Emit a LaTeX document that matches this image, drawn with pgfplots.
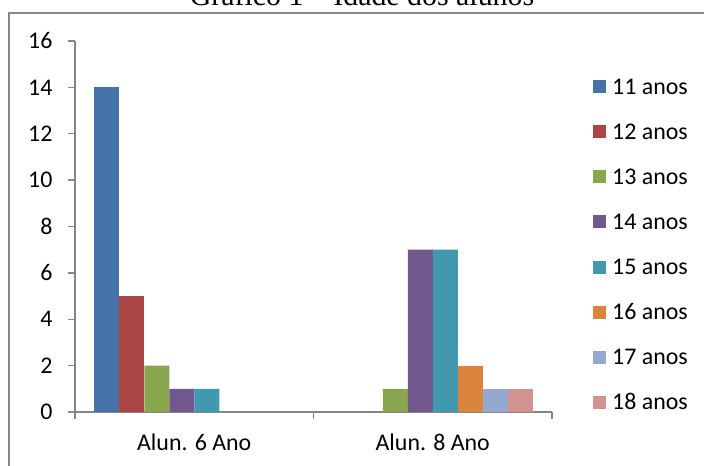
\documentclass[border=0pt]{standalone}
\usepackage{fontspec}
\setmainfont{Carlito}
\newfontfamily\titlefont{Liberation Serif}
\usepackage{pgfplots}
\pgfplotsset{compat=1.18}

\definecolor{c11}{HTML}{4572A7}
\definecolor{c12}{HTML}{AA4643}
\definecolor{c13}{HTML}{89A54E}
\definecolor{c14}{HTML}{71588F}
\definecolor{c15}{HTML}{4198AF}
\definecolor{c16}{HTML}{DB843D}
\definecolor{c17}{HTML}{93A9CF}
\definecolor{c18}{HTML}{D19392}
\definecolor{axisgray}{HTML}{868686}

\begin{document}
\begin{tikzpicture}
\path[use as bounding box] (0bp,0bp) rectangle (704bp,466bp);
\clip (0bp,0bp) rectangle (704bp,466bp);
% chart frame
\draw[axisgray, line width=1.2bp] (9bp,-20bp) rectangle (730bp,453bp);
% title
\node[font=\titlefont\fontsize{30}{34}\selectfont, anchor=base, inner sep=0pt]
  at (362bp,460bp) {Gráfico 1 – Idade dos alunos};
\begin{axis}[
  at={(75bp,54bp)}, anchor=south west,
  scale only axis, width=477bp, height=371bp,
  xmin=-0.5, xmax=1.5, ymin=0, ymax=16,
  ytick={0,2,...,16},
  xtick={-0.5,0.5,1.5}, xticklabels={},
  extra x ticks={0,1},
  extra x tick labels={Alun. 6 Ano, Alun. 8 Ano},
  extra x tick style={major tick length=0pt},
  axis x line*=bottom, axis y line*=left,
  axis line style={draw=axisgray, line width=1.3bp, -},
  every tick/.style={draw=axisgray, line width=1.3bp},
  major tick length=7bp, tick align=outside,
  ybar=0pt, bar width=25bp,
  ticklabel style={font=\fontsize{24}{28}\selectfont},
  /pgf/number format/assume math mode=true,
  yticklabel style={anchor=east, xshift=-12bp},
  xticklabel style={yshift=-18bp},
  legend style={draw=none, fill=none, at={(1.086,0.4515)}, anchor=west,
    inner sep=0pt, row sep=30.1bp,
    font=\fontsize{24}{28}\selectfont,
    nodes={text height=15bp, text depth=0pt, inner ysep=0pt, inner xsep=6bp}},
  legend image code/.code={\fill[#1] (0bp,-6.5bp) rectangle (13bp,6.5bp);},
  legend cell align=left,
]
\addplot[fill=c11, draw=none] coordinates {(0,14)};
\addplot[fill=c12, draw=none] coordinates {(0,5)};
\addplot[fill=c13, draw=none] coordinates {(0,2) (1,1)};
\addplot[fill=c14, draw=none] coordinates {(0,1) (1,7)};
\addplot[fill=c15, draw=none] coordinates {(0,1) (1,7)};
\addplot[fill=c16, draw=none] coordinates {(1,2)};
\addplot[fill=c17, draw=none] coordinates {(1,1)};
\addplot[fill=c18, draw=none] coordinates {(1,1)};
\legend{11 anos, 12 anos, 13 anos, 14 anos, 15 anos, 16 anos, 17 anos, 18 anos}
\end{axis}
\end{tikzpicture}
\end{document}
